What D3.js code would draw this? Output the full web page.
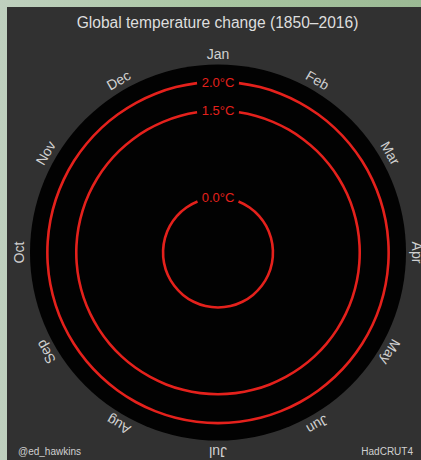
<!DOCTYPE html>
<html>
<head>
<meta charset="utf-8">
<script src="https://cdn.jsdelivr.net/npm/d3@7/dist/d3.min.js"></script>
<style>
  html, body { margin: 0; padding: 0; background: #b3c9b0; }
  svg { display: block; }
</style>
</head>
<body>
<svg id="chart" width="421" height="460"></svg>
<script>
// ---- data ----
const months = ["Jan","Feb","Mar","Apr","May","Jun","Jul","Aug","Sep","Oct","Nov","Dec"];
const ringTemps = [0.0, 1.5, 2.0];
const ringLabels = ["0.0°C", "1.5°C", "2.0°C"];
const tempDomain = [-0.95, 2.3];
const title = "Global temperature change (1850\u20132016)";
const creditLeft = "@ed_hawkins";
const creditRight = "HadCRUT4";

// ---- layout ----
const W = 421, H = 460;
const cx = 218, cy = 252.5, R = 188, labelR = 194;
const font = "Liberation Sans, Arial, Helvetica, sans-serif";

const svg = d3.select("#chart");

// background gradient outside panel
const defs = svg.append("defs");
const g0 = defs.append("linearGradient").attr("id", "bg").attr("x1", "0").attr("y1", "0").attr("x2", "1").attr("y2", "0");
g0.append("stop").attr("offset", "0%").attr("stop-color", "#bfd0bf");
g0.append("stop").attr("offset", "50%").attr("stop-color", "#a9c6a2");
g0.append("stop").attr("offset", "100%").attr("stop-color", "#9bb994");
svg.append("rect").attr("width", W).attr("height", H).attr("fill", "url(#bg)");

// panel
svg.append("rect").attr("x", 7).attr("y", 7).attr("width", W - 7).attr("height", H - 7).attr("fill", "#313131");

// title
svg.append("text").attr("x", 217.5).attr("y", 28)
  .attr("text-anchor", "middle").attr("fill", "#dedede")
  .style("font-family", font).style("font-size", "15.6px")
  .text(title);

const r = d3.scaleLinear().domain(tempDomain).range([0, R]);

const g = svg.append("g").attr("transform", `translate(${cx},${cy})`);

// black disc
g.append("circle").attr("r", r(tempDomain[1])).attr("fill", "#020202");

// month labels
const angle = d3.scaleBand().domain(months).range([0, 360]).align(0).paddingInner(0).paddingOuter(0);
g.selectAll("text.month").data(months).join("text")
  .attr("class", "month")
  .attr("transform", d => `rotate(${angle(d)}) translate(0,${-labelR})`)
  .attr("text-anchor", "middle")
  .attr("fill", "#d0d0d0")
  .style("font-family", font).style("font-size", "14px")
  .text(d => d);

// rings with gaps for labels
const gapHalf = 21;
const ring = d3.arc();
g.selectAll("path.ring").data(ringTemps).join("path")
  .attr("class", "ring")
  .attr("d", t => {
    const rr = r(t);
    const a = gapHalf / rr;
    return ring({innerRadius: rr - 1.3, outerRadius: rr + 1.3, startAngle: a, endAngle: 2 * Math.PI - a});
  })
  .attr("fill", "#e4211c");

g.selectAll("text.ringlabel").data(ringTemps).join("text")
  .attr("class", "ringlabel")
  .attr("x", 0).attr("y", t => -r(t))
  .attr("dy", "0.36em")
  .attr("text-anchor", "middle")
  .attr("fill", "#e4211c")
  .style("font-family", font).style("font-size", "13px")
  .text((t, i) => ringLabels[i]);

// credits
svg.append("text").attr("x", 18).attr("y", 455)
  .attr("fill", "#d0d0d0").style("font-family", font).style("font-size", "10px")
  .text(creditLeft);
svg.append("text").attr("x", 413).attr("y", 455).attr("text-anchor", "end")
  .attr("fill", "#d0d0d0").style("font-family", font).style("font-size", "10px")
  .text(creditRight);
</script>
</body>
</html>
